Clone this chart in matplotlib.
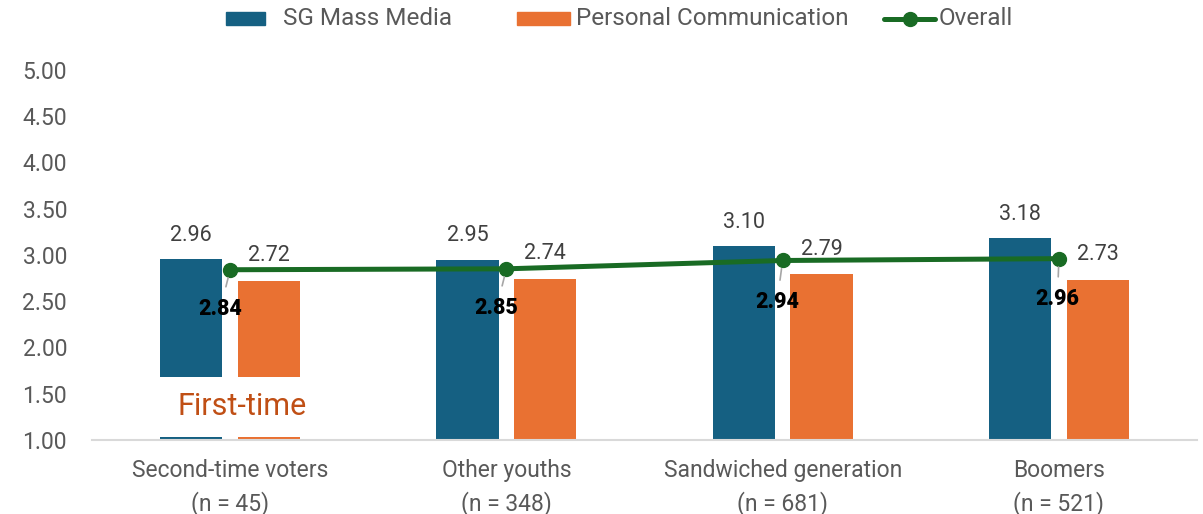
import matplotlib
matplotlib.use("Agg")
import matplotlib.pyplot as plt
from matplotlib.patches import Rectangle
from matplotlib.lines import Line2D
import numpy as np

plt.rcParams['font.family'] = ['Roboto', 'DejaVu Sans']

categories = ["Second-time voters\n(n = 45)", "Other youths\n(n = 348)",
              "Sandwiched generation\n(n = 681)", "Boomers\n(n = 521)"]
mass_media = [2.96, 2.95, 3.10, 3.18]
personal_comm = [2.72, 2.74, 2.79, 2.73]
overall = [2.84, 2.85, 2.94, 2.96]
y_ticks = [1.00, 1.50, 2.00, 2.50, 3.00, 3.50, 4.00, 4.50, 5.00]
series_names = ["SG Mass Media", "Personal Communication", "Overall"]

BLUE = "#156082"
ORANGE = "#E97132"
GREEN = "#196B24"
TEXT = "#595959"
LABEL = "#404040"

W, H = 1203, 514
fig = plt.figure(figsize=(W / 100, H / 100), dpi=100)
ax = fig.add_axes([0.0765, 0.144, 0.9185, 0.72])

x = np.arange(len(categories))
w = 0.225
off = 0.141
base = 1.0
ax.bar(x - off, np.array(mass_media) - base, w, bottom=base, color=BLUE, zorder=2)
ax.bar(x + off, np.array(personal_comm) - base, w, bottom=base, color=ORANGE, zorder=2)
ax.plot(x, overall, color=GREEN, lw=3.6, marker="o", ms=10, zorder=4,
        solid_capstyle="round")

for xi, v in zip(x - off, mass_media):
    ax.annotate(f"{v:.2f}", (xi, v), xytext=(0, 17), textcoords="offset points",
                ha="center", va="center", fontsize=15.5, color=LABEL, zorder=5)
for xi, v in zip(x + off, personal_comm):
    ax.annotate(f"{v:.2f}", (xi, v), xytext=(0, 18), textcoords="offset points",
                ha="center", va="center", fontsize=15.5, color=LABEL, zorder=5)

overall_offsets = [(-7, -28), (-7, -28), (-4, -30), (-1, -29)]
for xi, v, (dx, dy) in zip(x, overall, overall_offsets):
    ax.annotate(f"{v:.2f}", (xi, v), xytext=(dx, dy), textcoords="offset points",
                ha="center", va="center", fontsize=15.5, color="black",
                fontweight="heavy", zorder=6,
                arrowprops=dict(arrowstyle="-", color="#A6A6A6", lw=1.2,
                                shrinkA=6, shrinkB=6))

# text box sitting over the first group's bars
ax.add_patch(Rectangle((-0.33, 1.035), 0.66, 0.645, facecolor="white",
                       edgecolor="none", zorder=3))
ax.text(0.045, 1.36, "First-time", ha="center", va="center", fontsize=22,
        color="#C04F15", zorder=7)

ax.set_xlim(-0.5, 3.5)
ax.set_ylim(1.0, 5.0)
ax.set_yticks(y_ticks)
ax.set_yticklabels([f"{t:.2f}" for t in y_ticks])
ax.set_xticks(x)
ax.set_xticklabels(categories, linespacing=1.45)
ax.tick_params(axis="both", length=0, colors=TEXT)
ax.tick_params(axis="y", pad=18, labelsize=16.5)
ax.tick_params(axis="x", pad=14, labelsize=16.5)
for s in ["top", "right", "left"]:
    ax.spines[s].set_visible(False)
ax.spines["bottom"].set_color("#D9D9D9")
ax.spines["bottom"].set_linewidth(1.5)

# legend row across the top
ly = 1 - 18.5 / H
ph = 13 / H
fig.add_artist(Rectangle((226 / W, ly - ph / 2), 39 / W, ph, color=BLUE,
                         transform=fig.transFigure))
fig.text(283 / W, ly, series_names[0], ha="left", va="center", fontsize=17.5,
         color=TEXT)
fig.add_artist(Rectangle((517 / W, ly - ph / 2), 53 / W, ph, color=ORANGE,
                         transform=fig.transFigure))
fig.text(576 / W, ly, series_names[1], ha="left", va="center", fontsize=17.5,
         color=TEXT)
fig.add_artist(Line2D([884 / W, 935 / W], [ly, ly], color=GREEN, lw=3.6,
                      solid_capstyle="round", transform=fig.transFigure))
fig.add_artist(Line2D([909.5 / W], [ly], color=GREEN, marker="o", ms=10,
                      transform=fig.transFigure))
fig.text(939 / W, ly, series_names[2], ha="left", va="center", fontsize=17.5,
         color=TEXT)

fig.savefig("out.png", dpi=100)
